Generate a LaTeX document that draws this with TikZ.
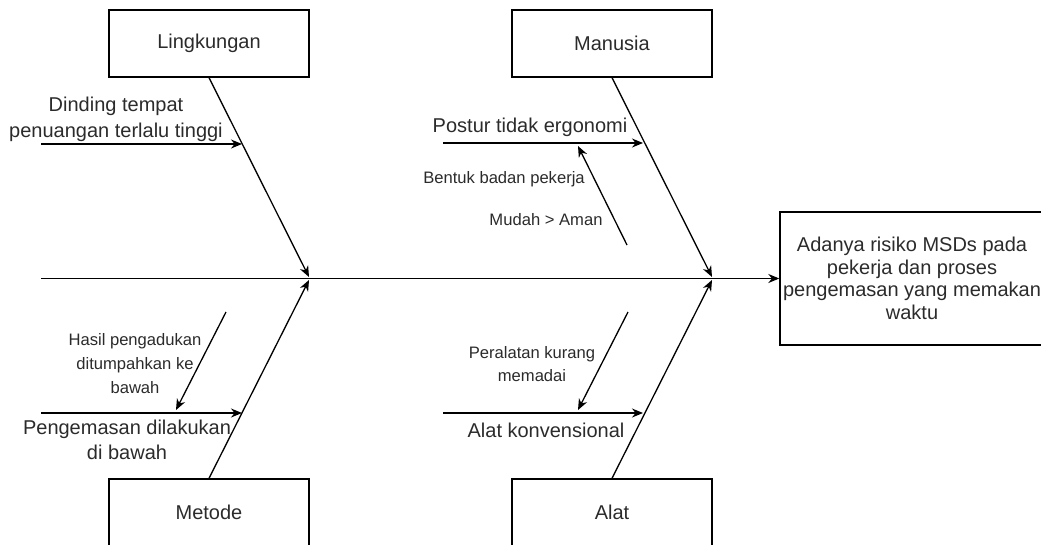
\documentclass[tikz,border=0pt]{standalone}
\usepackage{fontspec}
\setmainfont{Liberation Sans}
\usetikzlibrary{arrows.meta}
\definecolor{tcol}{HTML}{2B2B2B}
\begin{document}
\begin{tikzpicture}[x=1pt,y=-1pt,
  box/.style={draw=black, line width=1.4pt, minimum width=200pt, minimum height=67pt, inner sep=0pt, text=tcol, font=\fontsize{20}{24}\selectfont},
  big/.style={text=tcol, align=center, inner sep=0pt, font=\fontsize{20}{26}\selectfont},
  sml/.style={text=tcol, align=center, inner sep=0pt, font=\fontsize{16.6}{24}\selectfont},
  arr/.style={draw=black, line width=1.3pt, -{Stealth[length=11pt,width=9pt]}}
]
\useasboundingbox (0,0) rectangle (1041,544);
% category boxes
\node[box] (ling) at (209,43.5) {Lingkungan};
\node[box] (manu) at (612,43.5) {Manusia};
\node[box] (meto) at (209,512.5) {Metode};
\node[box] (alat) at (612,512.5) {Alat};
% effect box
\node[box, minimum width=264pt, minimum height=133pt, align=center, font=\fontsize{20}{22.5}\selectfont] (eff) at (912,278.5)
  {Adanya risiko MSDs pada\\pekerja dan proses\\pengemasan yang memakan\\waktu};
% spine
\coordinate (s0) at (41,278.5);
\draw[arr] (s0) -- (eff.west);
% main bones
\coordinate (j1t) at (309,277);
\coordinate (j1b) at (309,280);
\coordinate (j2t) at (712,277);
\coordinate (j2b) at (712,280);
\draw[arr] (ling.south) -- (j1t);
\draw[arr] (meto.north) -- (j1b);
\draw[arr] (manu.south) -- (j2t);
\draw[arr] (alat.north) -- (j2b);
% Lingkungan cause
\coordinate (a1s) at (41,144);
\coordinate (a1e) at (242,144);
\draw[arr] (a1s) -- (a1e);
\node[big] (t1) at (116,119.5) {Dinding tempat\\penuangan terlalu tinggi};
% Manusia causes
\coordinate (a2s) at (443,143);
\coordinate (a2e) at (643,143);
\draw[arr] (a2s) -- (a2e);
\node[big] (t2) at (530,127) {Postur tidak ergonomi};
\coordinate (a3s) at (627,245);
\coordinate (a3e) at (578,146);
\draw[arr] (a3s) -- (a3e);
\node[sml] (t3) at (504,179) {Bentuk badan pekerja};
\node[sml] (t4) at (546,220) {Mudah > Aman};
% Metode causes
\coordinate (a4s) at (41,413);
\coordinate (a4e) at (242,413);
\draw[arr] (a4s) -- (a4e);
\node[big, font=\fontsize{20}{25}\selectfont] (t5) at (127,439.5) {Pengemasan dilakukan\\di bawah};
\coordinate (a5s) at (226,312);
\coordinate (a5e) at (176,410);
\draw[arr] (a5s) -- (a5e);
\node[sml] (t6) at (135,364) {Hasil pengadukan\\ditumpahkan ke\\bawah};
% Alat causes
\coordinate (a6s) at (443,413);
\coordinate (a6e) at (643,413);
\draw[arr] (a6s) -- (a6e);
\node[big] (t7) at (546,430) {Alat konvensional};
\coordinate (a7s) at (628,312);
\coordinate (a7e) at (578,410);
\draw[arr] (a7s) -- (a7e);
\node[sml, font=\fontsize{16.6}{23}\selectfont] (t8) at (532,364.5) {Peralatan kurang\\memadai};
\end{tikzpicture}
\end{document}
